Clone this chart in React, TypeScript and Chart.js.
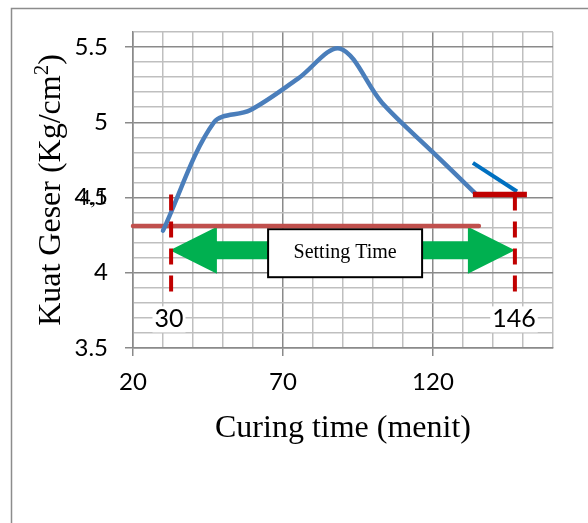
import React, { useEffect, useRef } from 'react';
import { Chart, registerables } from 'chart.js';

Chart.register(...registerables);

// ---- data ----
const curingTime = [30, 47, 59, 75, 89, 103, 120, 134];
const kuatGeser = [4.28, 5.0, 5.08, 5.29, 5.49, 5.13, 4.8, 4.53];

const blueMarkX = [133.3, 148];
const blueMarkY = [4.73, 4.54];
const redCapX = [133.3, 151.3];
const redCapY = [4.52, 4.52];
const baseLineX = [20, 135.3];
const baseLineY = [4.31, 4.31];

const settingStart = 32.7;
const settingEnd = 147.3;
const dashTopBottom = [4.52, 3.86];
const arrowLevel = 4.15;
const arrowTips = [32.3, 147.3];
const boxCenter = [90.7, 4.13];
const boxText = 'Setting Time';

const markerLabels = ['30', '146'];
const markerLabelX = [32, 147];
const markerLabelY = 3.69;

const xTickLabels = [20, 70, 120];
const yTickLabels = [3.5, 4, 4.5, 5, 5.5];
const xRange = [20, 160];
const yRange = [3.5, 5.6];

const xTitle = 'Curing time (menit)';
const yTitleMain = 'Kuat Geser (Kg/cm';
const yTitleSup = '2';
const yTitleEnd = ')';

const pts = (xs: number[], ys: number[]) => xs.map((x, i) => ({ x, y: ys[i] }));
const isMajorY = (v: number) => yTickLabels.some((t) => Math.abs(t - v) < 1e-6);
const isMajorX = (v: number) => xTickLabels.some((t) => Math.abs(t - v) < 1e-6);

const MINOR = '#bfbfbf';
const MAJOR = '#8a8a8a';

const overlay = {
  id: 'overlay',
  beforeDraw(chart: any) {
    const ctx = chart.ctx;
    ctx.save();
    ctx.strokeStyle = '#8c8c8c';
    ctx.lineWidth = 1.5;
    ctx.beginPath();
    ctx.moveTo(11.5, 523);
    ctx.lineTo(11.5, 8.5);
    ctx.lineTo(588, 8.5);
    ctx.stroke();
    ctx.restore();
  },
  beforeDatasetsDraw(chart: any) {
    const ctx = chart.ctx;
    const xs = chart.scales.x;
    const ys = chart.scales.y;
    const cy = ys.getPixelForValue(arrowLevel);
    const lx = xs.getPixelForValue(arrowTips[0]);
    const rx = xs.getPixelForValue(arrowTips[1]);
    const headLen = 47;
    const headHalf = 23.5;
    const shaftHalf = 9;
    ctx.save();
    ctx.fillStyle = '#00b050';
    ctx.beginPath();
    ctx.moveTo(lx, cy);
    ctx.lineTo(lx + headLen, cy - headHalf);
    ctx.lineTo(lx + headLen, cy - shaftHalf);
    ctx.lineTo(rx - headLen, cy - shaftHalf);
    ctx.lineTo(rx - headLen, cy - headHalf);
    ctx.lineTo(rx, cy);
    ctx.lineTo(rx - headLen, cy + headHalf);
    ctx.lineTo(rx - headLen, cy + shaftHalf);
    ctx.lineTo(lx + headLen, cy + shaftHalf);
    ctx.lineTo(lx + headLen, cy + headHalf);
    ctx.closePath();
    ctx.fill();

    // text box
    const bx = xs.getPixelForValue(boxCenter[0]);
    const by = ys.getPixelForValue(boxCenter[1]);
    const bw = 154;
    const bh = 48;
    ctx.fillStyle = '#ffffff';
    ctx.fillRect(bx - bw / 2, by - bh / 2, bw, bh);
    ctx.strokeStyle = '#000000';
    ctx.lineWidth = 2;
    ctx.strokeRect(bx - bw / 2, by - bh / 2, bw, bh);
    ctx.fillStyle = '#000000';
    ctx.font = '20px "Liberation Serif"';
    ctx.textAlign = 'center';
    ctx.textBaseline = 'middle';
    ctx.fillText(boxText, bx, by);
    ctx.restore();
  },
  afterDraw(chart: any) {
    const ctx = chart.ctx;
    const xs = chart.scales.x;
    const ys = chart.scales.y;
    const area = chart.chartArea;
    ctx.save();
    // marker labels
    ctx.font = '25px Lato';
    ctx.textAlign = 'center';
    ctx.textBaseline = 'middle';
    markerLabels.forEach((t, i) => {
      const px = xs.getPixelForValue(markerLabelX[i]);
      const py = ys.getPixelForValue(markerLabelY);
      const w = ctx.measureText(t).width + 4;
      ctx.fillStyle = '#ffffff';
      ctx.fillRect(px - w / 2, py - 13, w, 26);
      ctx.fillStyle = '#000000';
      ctx.fillText(t, px, py);
    });

    // garbled overlap on the 4.5 tick label
    ctx.font = '22px "Liberation Serif"';
    ctx.textAlign = 'right';
    ctx.fillStyle = '#000000';
    ctx.fillText('4,1', 107, ys.getPixelForValue(4.5) + 1);

    // x title
    ctx.font = '32px "Liberation Serif"';
    ctx.textAlign = 'center';
    ctx.textBaseline = 'alphabetic';
    ctx.fillText(xTitle, (area.left + area.right) / 2, 437);

    // y title with superscript
    const cy = (area.top + area.bottom) / 2;
    ctx.translate(60, cy);
    ctx.rotate(-Math.PI / 2);
    ctx.textAlign = 'left';
    ctx.font = '32px "Liberation Serif"';
    const w1 = ctx.measureText(yTitleMain).width;
    const w3 = ctx.measureText(yTitleEnd).width;
    ctx.font = '21px "Liberation Serif"';
    const w2 = ctx.measureText(yTitleSup).width;
    let x = -(w1 + w2 + w3) / 2;
    ctx.font = '32px "Liberation Serif"';
    ctx.fillText(yTitleMain, x, 0);
    x += w1;
    ctx.font = '21px "Liberation Serif"';
    ctx.fillText(yTitleSup, x, -12);
    x += w2;
    ctx.font = '32px "Liberation Serif"';
    ctx.fillText(yTitleEnd, x, 0);
    ctx.restore();
  },
};

export default function App() {
  const ref = useRef<HTMLCanvasElement | null>(null);
  useEffect(() => {
    if (!ref.current) return;
    const dashed = {
      borderColor: '#c00000',
      borderWidth: 4,
      borderDash: [16, 11],
      pointRadius: 0,
      tension: 0,
      clip: false as any,
    };
    const chart = new Chart(ref.current, {
      type: 'line',
      data: {
        datasets: [
          { ...dashed, data: pts([settingStart, settingStart], dashTopBottom) },
          { ...dashed, data: pts([settingEnd, settingEnd], dashTopBottom) },
          { data: pts(redCapX, redCapY), borderColor: '#c00000', borderWidth: 5.5, pointRadius: 0, clip: false as any },
          { data: pts(blueMarkX, blueMarkY), borderColor: '#0070c0', borderWidth: 4, pointRadius: 0, clip: false as any },
          {
            data: pts(curingTime, kuatGeser),
            borderColor: '#4a7ebb',
            borderWidth: 4.5,
            borderCapStyle: 'round',
            borderJoinStyle: 'round',
            pointRadius: 0,
            tension: 0.33,
            clip: false as any,
          },
          { data: pts(baseLineX, baseLineY), borderColor: '#c0504d', borderWidth: 4.5, borderCapStyle: 'round', pointRadius: 0, clip: false as any },
        ],
      },
      options: {
        animation: false,
        responsive: false,
        events: [],
        layout: { padding: { top: 32, right: 35, left: 0, bottom: 0 } },
        plugins: { legend: { display: false }, tooltip: { enabled: false } },
        scales: {
          x: {
            type: 'linear',
            min: xRange[0],
            max: xRange[1],
            afterFit: (s: any) => { s.height = 175; },
            ticks: {
              stepSize: 10,
              autoSkip: false,
              maxRotation: 0,
              padding: 12,
              color: '#000000',
              font: { family: 'Lato', size: 24 },
              callback: (v: any) => (isMajorX(Number(v)) ? String(v) : ''),
            },
            grid: {
              color: (c: any) => (isMajorX(c.tick?.value) ? MAJOR : MINOR),
              lineWidth: 1.5,
              tickLength: 8,
              tickColor: (c: any) => (isMajorX(c.tick?.value) ? MAJOR : 'rgba(0,0,0,0)'),
            },
            border: { display: true, color: MAJOR, width: 1.5 },
          },
          y: {
            type: 'linear',
            min: yRange[0],
            max: yRange[1],
            afterFit: (s: any) => { s.width = 133; },
            ticks: {
              stepSize: 0.1,
              autoSkip: false,
              padding: 17,
              color: '#000000',
              font: { family: 'Lato', size: 24 },
              callback: (v: any) => (isMajorY(Number(v)) ? String(Number(Number(v).toFixed(1))) : ''),
            },
            grid: {
              color: (c: any) => (isMajorY(c.tick?.value) ? MAJOR : MINOR),
              lineWidth: 1.5,
              tickLength: 8,
              tickColor: (c: any) => (isMajorY(c.tick?.value) ? MAJOR : 'rgba(0,0,0,0)'),
            },
            border: { display: true, color: MAJOR, width: 1.5 },
          },
        },
      },
      plugins: [overlay],
    } as any);
    return () => chart.destroy();
  }, []);
  return (
    <div style={{ position: 'absolute', left: 0, top: 0, width: 588, height: 523, background: '#ffffff' }}>
      <canvas ref={ref} width={588} height={523} style={{ width: 588, height: 523, display: 'block' }} />
    </div>
  );
}
